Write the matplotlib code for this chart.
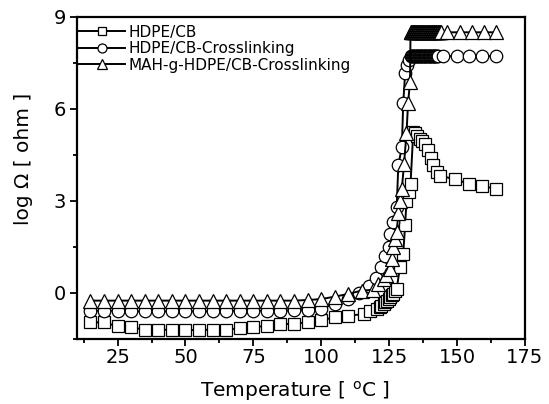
import matplotlib
matplotlib.use("Agg")
import matplotlib.pyplot as plt
from matplotlib.ticker import MultipleLocator

plt.rcParams['font.family'] = ['DejaVu Sans']

# HDPE/CB (squares)
sq_T = [15, 20, 25, 30, 35, 40, 45, 50, 55, 60, 65, 70, 75, 80, 85, 90, 95, 100, 105, 110,
        115.6, 118, 120.6, 121.5, 122.2, 123, 123.6, 124.2, 124.8, 125.4, 126, 126.6, 127.2, 127.8,
        129, 130.2, 130.9, 131.4, 132.3, 132.9, 133.9, 134.5, 135.3, 136.3, 137.2, 138.2,
        139.4, 140.3, 141.3, 142.5, 143.7, 149.4, 154.3, 159.2, 164.3]
sq_V = [-0.96, -0.96, -1.09, -1.12, -1.2, -1.2, -1.2, -1.22, -1.2, -1.2, -1.2, -1.15, -1.12,
        -1.07, -1.01, -1.01, -0.95, -0.88, -0.8, -0.74,
        -0.69, -0.6, -0.52, -0.46, -0.42, -0.36, -0.31, -0.25, -0.2, -0.14, -0.08, -0.02, 0.05, 0.13,
        0.84, 1.27, 2.2, 3.0, 3.3, 3.56, 5.25, 5.2, 5.12, 5.03, 4.95, 4.87,
        4.65, 4.4, 4.16, 3.94, 3.83, 3.7, 3.56, 3.49, 3.4]

# HDPE/CB-Crosslinking (circles)
ci_T = [15, 20, 25, 30, 35, 40, 45, 50, 55, 60, 65, 70, 75, 80, 85, 90, 95, 100, 105, 110,
        114, 117.5, 120, 122, 123.5, 124.8, 125.4, 126.5, 127.8, 128.4, 129.7, 130.2, 130.9,
        131.5, 132.3,
        133.0, 133.3, 133.6, 133.9, 134.2, 134.5, 134.8, 135.1, 135.4, 135.7, 136.0, 136.3,
        136.6, 136.9, 137.2, 137.5, 137.8, 138.1, 138.4, 138.7, 139.0, 139.3, 139.6, 139.9,
        140.2, 140.5, 140.8, 141.1, 141.4, 141.7, 142.0, 142.3, 142.6, 142.9,
        144.8, 149.9, 154.6, 159.4, 164.5]
ci_V = [-0.58, -0.58, -0.58, -0.6, -0.6, -0.6, -0.6, -0.6, -0.6, -0.6, -0.58, -0.58, -0.58,
        -0.58, -0.58, -0.57, -0.56, -0.52, -0.35, -0.2,
        0.0, 0.24, 0.5, 0.85, 1.2, 1.5, 1.93, 2.3, 2.8, 4.16, 4.76, 6.18, 7.16,
        7.43, 7.6,
        7.72, 7.72, 7.72, 7.72, 7.72, 7.72, 7.72, 7.72, 7.72, 7.72, 7.72, 7.72,
        7.72, 7.72, 7.72, 7.72, 7.72, 7.72, 7.72, 7.72, 7.72, 7.72, 7.72, 7.72,
        7.72, 7.72, 7.72, 7.72, 7.72, 7.72, 7.72, 7.72, 7.72, 7.72,
        7.72, 7.72, 7.72, 7.72, 7.72]

# MAH-g-HDPE/CB-Crosslinking (triangles)
tr_T = [15, 20, 25, 30, 35, 40, 45, 50, 55, 60, 65, 70, 75, 80, 85, 90, 95, 100, 105, 110,
        115, 119, 121, 123, 124, 125.4, 126, 126.6, 127.2, 127.8, 128.4, 129, 129.7, 130.5,
        131.4, 132, 132.7,
        132.9, 133.15, 133.4, 133.65, 133.9, 134.15, 134.4, 134.65, 134.9, 135.15, 135.4,
        135.65, 135.9, 136.15, 136.4, 136.65, 136.9, 137.15, 137.4, 137.65, 137.9, 138.15,
        138.4, 138.65, 138.9, 139.15, 139.4, 139.65, 139.9, 140.15, 140.4, 140.65, 140.9,
        141.15, 141.4, 141.65, 141.9, 142.15, 142.4, 142.65, 142.9, 143.15, 143.4, 143.65,
        143.9, 144.15,
        146.5, 151, 155.5, 160, 164.5]
tr_V = [-0.25, -0.25, -0.25, -0.25, -0.25, -0.25, -0.25, -0.25, -0.25, -0.25, -0.25, -0.25,
        -0.25, -0.25, -0.25, -0.25, -0.23, -0.2, -0.12, -0.03,
        0.08, 0.1, 0.3, 0.46, 0.6, 0.78, 1.11, 1.49, 1.75, 1.98, 2.6, 3.0, 3.4, 4.2,
        5.2, 6.2, 6.88,
        8.5, 8.5, 8.5, 8.5, 8.5, 8.5, 8.5, 8.5, 8.5, 8.5, 8.5,
        8.5, 8.5, 8.5, 8.5, 8.5, 8.5, 8.5, 8.5, 8.5, 8.5, 8.5,
        8.5, 8.5, 8.5, 8.5, 8.5, 8.5, 8.5, 8.5, 8.5, 8.5, 8.5,
        8.5, 8.5, 8.5, 8.5, 8.5, 8.5, 8.5, 8.5, 8.5, 8.5, 8.5,
        8.5, 8.5,
        8.5, 8.5, 8.5, 8.5, 8.5]

labels = ['HDPE/CB', 'HDPE/CB-Crosslinking', 'MAH-g-HDPE/CB-Crosslinking']

fig = plt.figure(figsize=(5.49, 4.04), dpi=100)
ax = fig.add_axes([0.140, 0.161, 0.816, 0.797])

common = dict(color='black', linewidth=1.4, markerfacecolor='white',
              markeredgecolor='black', markeredgewidth=0.9)
ax.plot(sq_T, sq_V, marker='s', markersize=8.3, label=labels[0], **common)
ax.plot(ci_T, ci_V, marker='o', markersize=9, label=labels[1], **common)
ax.plot(tr_T, tr_V, marker='^', markersize=10, label=labels[2], **common)

ax.set_xlim(10, 175)
ax.set_ylim(-1.5, 9)
ax.xaxis.set_major_locator(MultipleLocator(25))
ax.xaxis.set_minor_locator(MultipleLocator(12.5))
ax.yaxis.set_major_locator(MultipleLocator(3))
ax.yaxis.set_minor_locator(MultipleLocator(1.5))
ax.tick_params(which='both', direction='out', top=False, right=False, width=1.3)
ax.tick_params(which='major', length=5, labelsize=14)
ax.tick_params(axis='x', which='major', pad=1.5)
ax.tick_params(axis='y', which='major', pad=3)
ax.tick_params(which='minor', length=3)
for s in ax.spines.values():
    s.set_linewidth(1.6)

ax.set_xlabel('Temperature [ $^{\\mathrm{o}}$C ]', fontsize=14.5)
ax.set_ylabel('log \u03a9 [ ohm ]', fontsize=14.5)
ax.xaxis.set_label_coords(0.487, -0.125)
ax.yaxis.set_label_coords(-0.098, 0.56)

leg = ax.legend(loc='upper left', bbox_to_anchor=(-0.012, 1.0), frameon=False, fontsize=11,
                handlelength=3.0, handletextpad=0.2, labelspacing=0.1, borderaxespad=0.0,
                borderpad=0.5, markerscale=0.72)

fig.savefig('out.png', dpi=100)
